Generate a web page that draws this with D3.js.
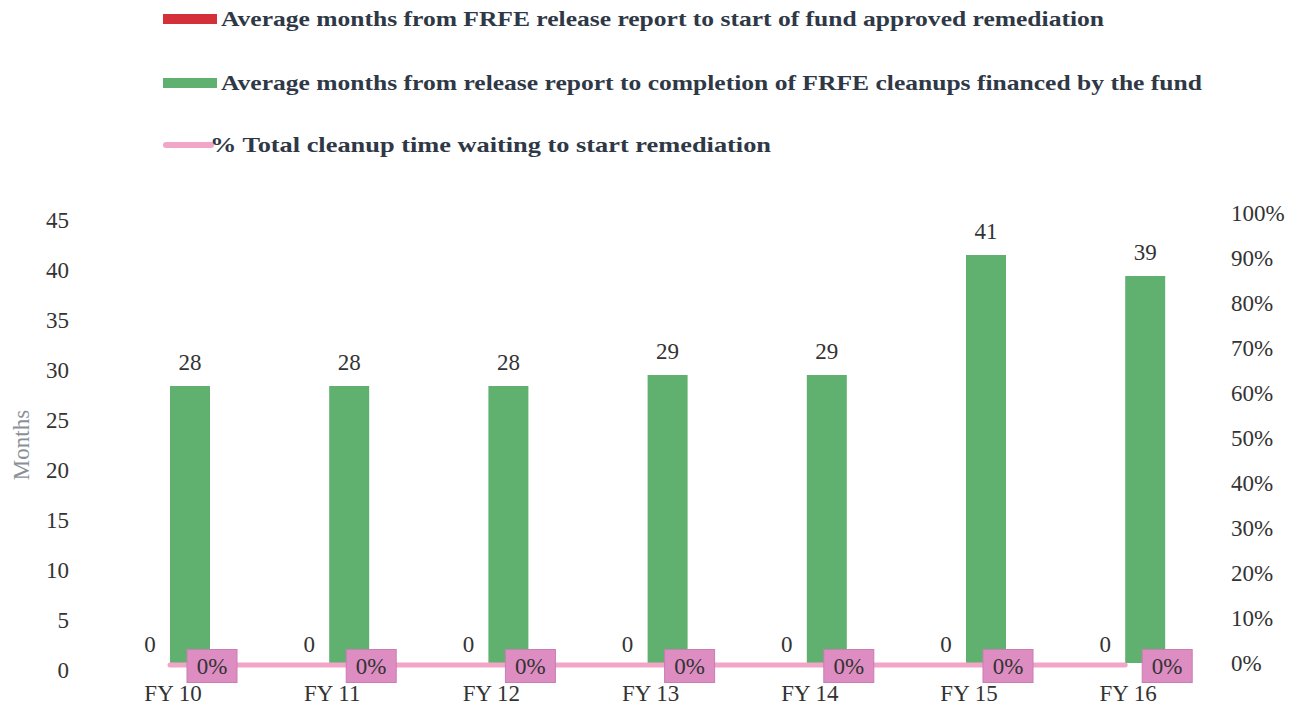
<!DOCTYPE html>
<html>
<head>
  <meta charset="utf-8">
  <title>FRFE cleanup months</title>
  <script src="https://cdnjs.cloudflare.com/ajax/libs/d3/7.8.5/d3.min.js"></script>
<style>
body{
  margin:0;
  background:#ffffff;
}
svg{
  display:block;
  font-family:"Liberation Serif", "DejaVu Serif", serif;
}
.legend text{
  font-weight:bold;
  font-size:22px;
  fill:#2f3846;
}
.tick text{
  font-size:23px;
  fill:#333333;
}
</style>
</head>
<body>
<svg width="1304" height="715"></svg>

<script>
// data
var years = ["FY 10", "FY 11", "FY 12", "FY 13", "FY 14", "FY 15", "FY 16"];
var startMonths = [0, 0, 0, 0, 0, 0, 0];
var totalMonths = [27.7, 27.7, 27.7, 28.8, 28.8, 40.8, 38.7];
var pctWaiting = [0, 0, 0, 0, 0, 0, 0];
var leftTicks = [0, 5, 10, 15, 20, 25, 30, 35, 40, 45];
var rightTicks = [0, 0.1, 0.2, 0.3, 0.4, 0.5, 0.6, 0.7, 0.8, 0.9, 1];
var seriesNames = [
  "Average months from FRFE release report to start of fund approved remediation",
  "Average months from release report to completion of FRFE cleanups financed by the fund",
  "% Total cleanup time waiting to start remediation"
];

var red = "#d3303a", green = "#60b16f", pink = "#f2a6c7", boxPink = "#dd8dc2";

var svg = d3.select("svg");

var x = d3.scaleBand()
    .domain(years)
    .range([90.4, 1204.8]);

var yL = d3.scaleLinear()
    .domain([0, 45])
    .range([663, 213]);

var yR = d3.scaleLinear()
    .domain([0, 1])
    .range([663, 213]);

var barW = 40;
function mid(d) { return x(d) + x.bandwidth() / 2; }

// left axis
var leftAxis = d3.axisLeft(yL)
    .tickValues(leftTicks)
    .tickSize(0)
    .tickPadding(0);
var gl = svg.append("g")
    .attr("transform", "translate(69,7)")
    .call(leftAxis);
gl.select(".domain").remove();

// right axis
var rightAxis = d3.axisRight(yR)
    .tickValues(rightTicks)
    .tickSize(0)
    .tickPadding(0)
    .tickFormat(d3.format(".0%"));
var gr = svg.append("g")
    .attr("transform", "translate(1231,0)")
    .call(rightAxis);
gr.select(".domain").remove();

// category axis
var xAxis = d3.axisBottom(x).tickSize(0).tickPadding(0);
var gx = svg.append("g")
    .attr("transform", "translate(3,685)")
    .call(xAxis);
gx.select(".domain").remove();

[gl, gr, gx].forEach(function(g) {
  g.attr("font-family", null).attr("font-size", null);
});

svg.append("text")
  .attr("transform", "translate(29,445) rotate(-90)")
  .attr("text-anchor", "middle")
  .attr("font-size", 23)
  .attr("fill", "#8b9098")
  .text("Months");

// red bars (zero)
svg.selectAll(".bar-start")
  .data(years)
  .enter()
  .append("rect")
    .attr("class", "bar-start")
    .attr("x", function(d) { return mid(d) - barW; })
    .attr("y", function(d, i) { return yL(startMonths[i]); })
    .attr("width", barW)
    .attr("height", function(d, i) { return yL(0) - yL(startMonths[i]); })
    .attr("fill", red);

svg.selectAll(".lbl-start")
  .data(years)
  .enter()
  .append("text")
    .attr("x", function(d) { return mid(d) - barW / 2; })
    .attr("y", function(d, i) { return yL(startMonths[i]) - 11; })
    .attr("text-anchor", "middle")
    .attr("font-size", 23)
    .attr("fill", "#333")
    .text(function(d, i) { return Math.round(startMonths[i]); });

// green bars
svg.selectAll(".bar-total")
  .data(years)
  .enter()
  .append("rect")
    .attr("class", "bar-total")
    .attr("x", function(d) { return mid(d); })
    .attr("y", function(d, i) { return yL(totalMonths[i]); })
    .attr("width", barW)
    .attr("height", function(d, i) { return yL(0) - yL(totalMonths[i]); })
    .attr("fill", green);

svg.selectAll(".lbl-total")
  .data(years)
  .enter()
  .append("text")
    .attr("x", function(d) { return mid(d) + barW / 2; })
    .attr("y", function(d, i) { return yL(totalMonths[i]) - 16; })
    .attr("text-anchor", "middle")
    .attr("font-size", 23)
    .attr("fill", "#333")
    .text(function(d, i) { return Math.round(totalMonths[i]); });

// pink line
var line = d3.line()
    .x(function(d, i) { return mid(years[i]); })
    .y(function(d) { return yR(d) + 2; });

svg.append("path")
  .datum(pctWaiting)
  .attr("d", line)
  .attr("fill", "none")
  .attr("stroke", pink)
  .attr("stroke-width", 5)
  .attr("stroke-linecap", "round");

var boxes = svg.selectAll(".pct-box")
  .data(years)
  .enter()
  .append("g")
    .attr("class", "pct-box")
    .attr("transform", function(d, i) {
      return "translate(" + (mid(d) + 42) + "," + (yR(pctWaiting[i]) + 3) + ")";
    });
boxes.append("rect")
  .attr("x", -25)
  .attr("y", -16.5)
  .attr("width", 50)
  .attr("height", 33)
  .attr("fill", boxPink)
  .attr("stroke", "#c97db0")
  .attr("stroke-width", 1);
boxes.append("text")
  .attr("text-anchor", "middle")
  .attr("y", 8)
  .attr("font-size", 23)
  .attr("fill", "#333")
  .text(function(d, i) { return d3.format(".0%")(pctWaiting[i]); });

// legend
var legend = svg.append("g").attr("class", "legend");
var legRows = [
  {y: 19, color: red, w: 883, tx: 221},
  {y: 83, color: green, w: 981, tx: 221},
  {y: 145, color: pink, w: 561, tx: 210}
];
legRows.forEach(function(r, i) {
  if (i < 2) {
    legend.append("rect")
      .attr("x", 163).attr("y", r.y - 5)
      .attr("width", 54).attr("height", 10)
      .attr("fill", r.color);
  } else {
    legend.append("line")
      .attr("x1", 166).attr("x2", 211)
      .attr("y1", r.y).attr("y2", r.y)
      .attr("stroke", r.color)
      .attr("stroke-width", 6)
      .attr("stroke-linecap", "round");
  }
  legend.append("text")
    .attr("x", r.tx)
    .attr("y", r.y + 7)
    .attr("textLength", r.w)
    .attr("lengthAdjust", "spacingAndGlyphs")
    .text(seriesNames[i]);
});
</script>
</body>
</html>
